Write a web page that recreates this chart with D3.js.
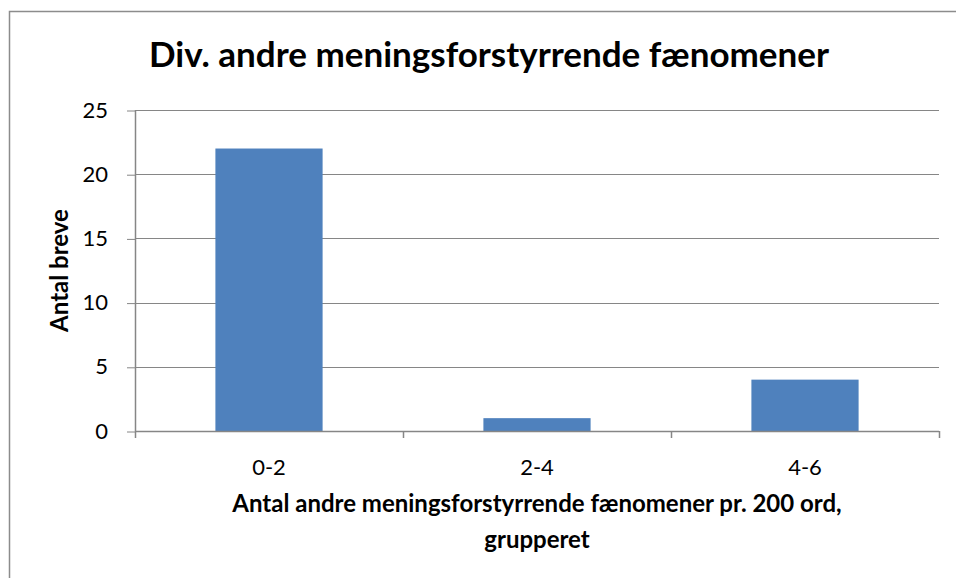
<!DOCTYPE html>
<meta charset="utf-8">
<head>
	<style>
		body { margin: 0; background: white; }
		svg { display: block; font-family: Lato, "Open Sans", sans-serif; }
	</style>
	<script src="https://cdn.jsdelivr.net/npm/d3@7"></script>
</head>
<body>
	<svg id="chart"></svg>
</body>
<script>

let categories = ["0-2", "2-4", "4-6"]
let values = [22, 1, 4]
let yTicks = [0, 5, 10, 15, 20, 25]

let title = "Div. andre meningsforstyrrende fænomener"
let xTitle = ["Antal andre meningsforstyrrende fænomener pr. 200 ord,", "grupperet"]
let yTitle = "Antal breve"

function getConfig() {
	let width = 956
	let height = 578
	let margin = { top: 110, bottom: 147, left: 135, right: 17 }
	let bodyWidth = width - margin.left - margin.right
	let bodyHeight = height - margin.top - margin.bottom
	let container = d3.select("#chart")
		.attr("width", width)
		.attr("height", height)
	return { width, height, margin, bodyWidth, bodyHeight, container }
}

function getScales(config) {
	let { bodyWidth, bodyHeight } = config
	let xScale = d3.scaleBand()
		.domain(categories)
		.range([0, bodyWidth])
		.paddingInner(0.6)
		.paddingOuter(0.3)
	// band without padding, used for the category tick marks
	let xOuter = d3.scaleBand()
		.domain(categories)
		.range([0, bodyWidth])
	let yScale = d3.scaleLinear()
		.domain([0, 25])
		.range([bodyHeight, 0])
	return { xScale, xOuter, yScale }
}

function drawChart() {
	let config = getConfig()
	let scales = getScales(config)
	let { container, margin, bodyWidth, bodyHeight } = config
	let { xScale, xOuter, yScale } = scales

	// outer chart border
	container.append("rect")
		.attr("x", 9.5)
		.attr("y", 11.5)
		.attr("width", 1000)
		.attr("height", 1000)
		.attr("fill", "none")
		.attr("stroke", "#8c8c8c")
		.attr("stroke-width", 1.5)

	let body = container.append("g")
		.attr("transform", `translate(${margin.left},${margin.top})`)

	// gridlines
	body.selectAll(".grid")
		.data(yTicks.filter(d => d > 0))
		.enter()
		.append("line")
		.attr("x1", 0)
		.attr("x2", bodyWidth)
		.attr("y1", d => Math.round(yScale(d)) + 0.5)
		.attr("y2", d => Math.round(yScale(d)) + 0.5)
		.attr("stroke", "#868686")
		.attr("stroke-width", 1)

	// bars
	body.selectAll(".bar")
		.data(values)
		.enter()
		.append("rect")
		.attr("x", (d, i) => xScale(categories[i]))
		.attr("y", d => yScale(d))
		.attr("width", xScale.bandwidth())
		.attr("height", d => bodyHeight - yScale(d))
		.attr("fill", "#4f81bd")

	// y axis
	let axisY = d3.axisLeft(yScale)
		.tickValues(yTicks)
		.tickSize(8)
		.tickPadding(19)
	let gy = body.append("g").call(axisY)
	gy.select(".domain").attr("d", `M0.5,0V${bodyHeight}`)
	gy.selectAll("line").attr("stroke", "#868686").attr("transform", "translate(0,0.5)")
	gy.select(".domain").attr("stroke", "#868686").attr("stroke-width", 1.5)
	gy.selectAll("text")
		.attr("font-family", "Lato, sans-serif")
		.attr("font-size", 22)
		.attr("fill", "#000")

	// x axis: baseline and tick marks at category boundaries
	let gx = body.append("g")
		.attr("transform", `translate(0,${bodyHeight})`)
	gx.append("line")
		.attr("x1", 0)
		.attr("x2", bodyWidth)
		.attr("y1", 0.5)
		.attr("y2", 0.5)
		.attr("stroke", "#868686")
		.attr("stroke-width", 1.5)
	let bounds = categories.map(c => xOuter(c)).concat([bodyWidth])
	gx.selectAll(".tick")
		.data(bounds)
		.enter()
		.append("line")
		.attr("x1", d => d + 0.5)
		.attr("x2", d => d + 0.5)
		.attr("y1", 0)
		.attr("y2", 7)
		.attr("stroke", "#868686")
		.attr("stroke-width", 1.5)
	gx.selectAll(".label")
		.data(categories)
		.enter()
		.append("text")
		.attr("x", d => xScale(d) + xScale.bandwidth() / 2)
		.attr("y", 44)
		.attr("text-anchor", "middle")
		.attr("font-size", 22)
		.text(d => d)

	// titles
	container.append("text")
		.attr("x", 489)
		.attr("y", 67)
		.attr("text-anchor", "middle")
		.attr("font-weight", "bold")
		.attr("font-size", 35)
		.text(title)

	container.append("text")
		.attr("x", 537)
		.attr("y", 512)
		.attr("text-anchor", "middle")
		.attr("font-weight", "bold")
		.attr("font-size", 24)
		.selectAll("tspan")
		.data(xTitle)
		.enter()
		.append("tspan")
		.attr("x", 537)
		.attr("dy", (d, i) => i === 0 ? 0 : 36)
		.text(d => d)

	container.append("text")
		.attr("transform", `translate(68,${margin.top + bodyHeight / 2}) rotate(-90)`)
		.attr("text-anchor", "middle")
		.attr("font-weight", "bold")
		.attr("font-size", 24)
		.text(yTitle)
}

drawChart()

</script>
